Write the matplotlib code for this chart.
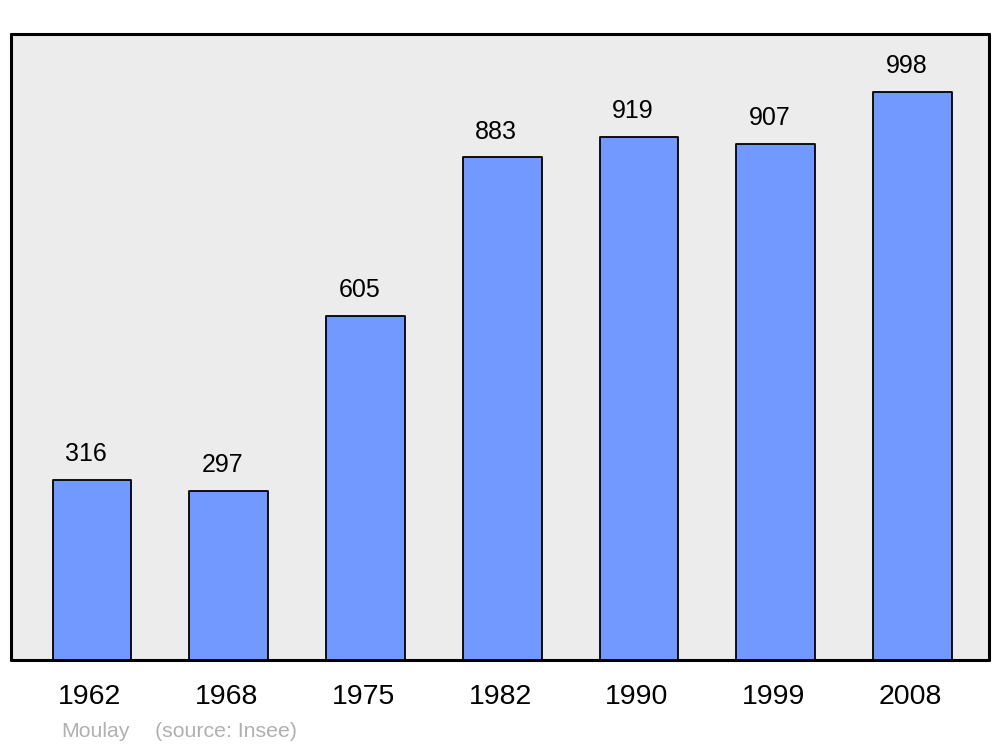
import matplotlib
matplotlib.use("Agg")
import matplotlib.pyplot as plt
import matplotlib.transforms as mtransforms

years = ["1962", "1968", "1975", "1982", "1990", "1999", "2008"]
population = [316, 297, 605, 883, 919, 907, 998]

plt.rcParams['font.family'] = ['Liberation Sans', 'DejaVu Sans']

fig = plt.figure(figsize=(10, 7.47), dpi=100)
ax = fig.add_axes([0.011, 1 - 660 / 747, 0.978, (660 - 34) / 747])
ax.set_facecolor('#ececec')

x = list(range(len(years)))
bars = ax.bar(x, population, width=0.575, color='#7299ff', edgecolor='black', linewidth=1.3, zorder=3)
for b in bars:
    b.set_joinstyle('round')

for xi, v in zip(x, population):
    ax.annotate(str(v), (xi, v), xytext=(-4.5, 10), textcoords='offset points',
                ha='center', va='bottom', fontsize=18, color='black')

ax.set_xlim(-0.592, 6.559)
ax.set_ylim(0, 1100)
ax.set_xticks(x)
ax.set_xticklabels(years, fontsize=20.5)
ax.tick_params(axis='x', length=0, pad=17)
shift = mtransforms.ScaledTranslation(-2 / 100, 0, fig.dpi_scale_trans)
for lbl in ax.get_xticklabels():
    lbl.set_transform(lbl.get_transform() + shift)
ax.set_yticks([])
for s in ax.spines.values():
    s.set_linewidth(2.2)
    s.set_joinstyle('round')
    s.set_capstyle('round')

fig.text(0.061, 1 - 737 / 747, "Moulay", fontsize=15.3, color='#b0b0b0', ha='left', va='baseline')
fig.text(0.155, 1 - 737 / 747, "(source: Insee)", fontsize=15.3, color='#b0b0b0', ha='left', va='baseline')

fig.savefig("out.png", dpi=100, facecolor='white')
